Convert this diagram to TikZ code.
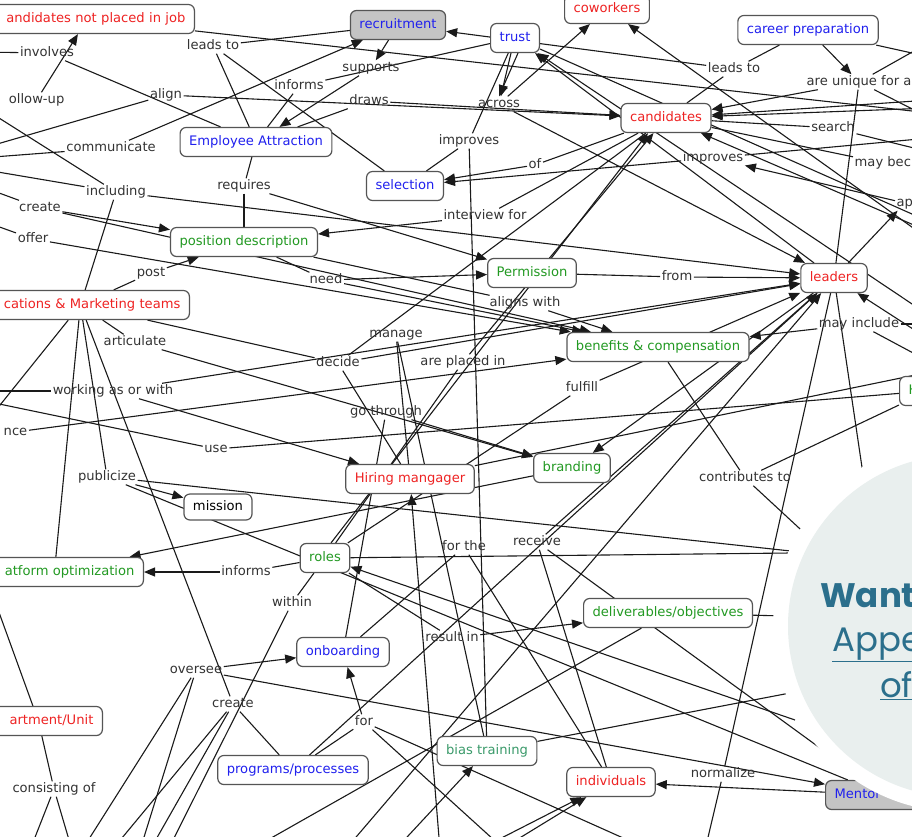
\documentclass[tikz,border=0pt]{standalone}
\usepackage{fontspec}
\setmainfont{DejaVu Sans}
\newfontfamily\promofont{Poppins}
\usetikzlibrary{arrows.meta}
\definecolor{cmred}{HTML}{EE2222}
\definecolor{cmblue}{HTML}{2020EE}
\definecolor{cmgreen}{HTML}{229922}
\definecolor{cmteal}{HTML}{3A9A6A}
\definecolor{boxline}{HTML}{555555}
\definecolor{boxgray}{HTML}{C4C4C4}
\definecolor{linkcol}{HTML}{1A1A1A}
\definecolor{labelcol}{HTML}{333333}
\definecolor{promofill}{HTML}{E9EFEE}
\definecolor{promotext}{HTML}{2B6F8C}
\pgfdeclarelayer{paper}
\pgfdeclarelayer{links}
\pgfsetlayers{paper,links,main}
\tikzset{
  concept/.style={draw=boxline, line width=1.2pt, rounded corners=6pt, fill=white,
    minimum height=29pt, inner xsep=9pt, inner ysep=2pt, text height=9.5pt, text depth=2.5pt,
    font=\fontsize{13.1}{15}\selectfont},
  grayconcept/.style={concept, fill=boxgray},
  phrase/.style={inner sep=1.5pt, text=labelcol, text height=9.5pt, text depth=2.5pt,
    font=\fontsize{13.1}{15}\selectfont},
  conn/.style={draw=linkcol, line width=1.1pt},
  conna/.style={conn, -{Triangle[length=11pt,width=9pt]}},
}
\begin{document}
\begin{tikzpicture}[x=1pt,y=-1pt]
\useasboundingbox (0,0) rectangle (912,836);
\begin{pgfonlayer}{paper}
  \fill[white] (0,0) rectangle (912,836);
\end{pgfonlayer}

% ---------- concepts ----------
\node[concept, text=cmred, anchor=east, text width=196pt, align=right] (cnp) at (195,19) {andidates not placed in job};
\node[grayconcept, text=cmblue] (recr) at (398,25) {recruitment};
\node[concept, text=cmblue] (trust) at (515,38) {trust};
\node[concept, text=cmred] (cowork) at (607,9) {coworkers};
\node[concept, text=cmblue] (career) at (808,30) {career preparation};
\node[concept, text=cmblue] (ea) at (256,142) {Employee Attraction};
\node[concept, text=cmred] (cand) at (666,118) {candidates};
\node[concept, text=cmblue] (sel) at (405,186) {selection};
\node[concept, text=cmgreen] (posd) at (244,242) {position description};
\node[concept, text=cmgreen] (perm) at (532,273) {Permission};
\node[concept, text=cmred] (lead) at (834,278) {leaders};
\node[concept, text=cmred, anchor=east, text width=200pt, align=right] (mkt) at (190,305) {cations \& Marketing teams};
\node[concept, text=cmgreen] (ben) at (658,347) {benefits \& compensation};
\node[concept, text=cmred] (hire) at (410,479) {Hiring mangager};
\node[concept, text=cmgreen] (brand) at (572,468) {branding};
\node[concept, text=black, minimum height=26pt] (miss) at (218,507) {mission};
\node[concept, text=cmgreen, anchor=east, text width=160pt, align=right] (plat) at (144,572) {atform optimization};
\node[concept, text=cmgreen] (roles) at (325,558) {roles};
\node[concept, text=cmgreen] (deliv) at (668,613) {deliverables/objectives};
\node[concept, text=cmblue] (onb) at (343,652) {onboarding};
\node[concept, text=cmred, anchor=east, text width=110pt, align=right] (dept) at (103,721) {artment/Unit};
\node[concept, text=cmblue] (prog) at (293,770) {programs/processes};
\node[concept, text=cmteal] (bias) at (487,751) {bias training};
\node[concept, text=cmred] (indiv) at (611,782) {individuals};
\node[grayconcept, text=cmblue, anchor=west, text width=100pt, align=left] (ment) at (825,795) {Mentor};
\node[concept, text=cmgreen, anchor=west, text width=40pt, align=left] (hnode) at (899,391) {H};

% ---------- linking phrases ----------
\node[phrase] (inv) at (47,53) {involves};
\node[phrase] (leads1) at (213,46) {leads to};
\node[phrase] (supp) at (371,68) {supports};
\node[phrase] (inf1) at (299,86) {informs};
\node[phrase] (align) at (166,95) {align};
\node[phrase, anchor=east] (follow) at (66,100) {ollow-up};
\node[phrase] (draws) at (369,101) {draws};
\node[phrase] (across) at (499,104) {across};
\node[phrase] (leads2) at (734,69) {leads to};
\node[phrase, anchor=west] (uniq) at (805,82) {are unique for a};
\node[phrase] (comm) at (111,148) {communicate};
\node[phrase] (impr1) at (469,141) {improves};
\node[phrase] (search) at (833,128) {search};
\node[phrase] (impr2) at (713,158) {improves};
\node[phrase, anchor=west] (maybec) at (853,163) {may bec};
\node[phrase] (incl) at (116,192) {including};
\node[phrase] (req) at (244,186) {requires};
\node[phrase] (of) at (535,165) {of};
\node[phrase] (create1) at (40,208) {create};
\node[phrase] (intv) at (485,216) {interview for};
\node[phrase] (offer) at (33,239) {offer};
\node[phrase, anchor=west] (ap) at (895,203) {ap};
\node[phrase] (post) at (151,273) {post};
\node[phrase] (need) at (326,280) {need};
\node[phrase] (from) at (677,277) {from};
\node[phrase] (alignsw) at (525,303) {aligns with};
\node[phrase] (artic) at (135,342) {articulate};
\node[phrase] (manage) at (396,334) {manage};
\node[phrase] (mayinc) at (859,324) {may include};
\node[phrase] (decide) at (338,363) {decide};
\node[phrase] (placed) at (463,362) {are placed in};
\node[phrase] (working) at (113,391) {working as or with};
\node[phrase] (fulfill) at (582,388) {fulfill};
\node[phrase] (gothr) at (386,412) {go through};
\node[phrase, anchor=east] (nce) at (29,432) {nce};
\node[phrase] (use) at (216,449) {use};
\node[phrase] (publ) at (107,477) {publicize};
\node[phrase] (contrib) at (745,478) {contributes to};
\node[phrase, anchor=west] (re) at (855,476) {re};
\node[phrase] (forthe) at (464,547) {for the};
\node[phrase] (receive) at (537,542) {receive};
\node[phrase] (inf2) at (246,572) {informs};
\node[phrase] (within) at (292,603) {within};
\node[phrase] (result) at (452,638) {result in};
\node[phrase] (oversee) at (196,670) {oversee};
\node[phrase] (create2) at (233,704) {create};
\node[phrase] (for) at (364,722) {for};
\node[phrase] (normal) at (723,774) {normalize};
\node[phrase] (consist) at (54,789) {consisting of};

% ---------- ends of links that leave the sheet ----------
\coordinate (w52) at (-20,52);
\coordinate (w108) at (-20,106);
\coordinate (w147) at (-20,149);
\coordinate (w158) at (-20,158);
\coordinate (w170) at (-20,169);
\coordinate (w190) at (-20,186);
\coordinate (w222) at (-20,220);
\coordinate (w391) at (-20,391);
\coordinate (w398) at (-20,400);
\coordinate (w425) at (-20,430);
\coordinate (w560) at (-20,560);
\coordinate (e40) at (930,42);
\coordinate (e57) at (930,57);
\coordinate (e100) at (930,100);
\coordinate (e106) at (930,108);
\coordinate (e112) at (930,113);
\coordinate (e115) at (930,118);
\coordinate (e140) at (930,138);
\coordinate (e150) at (930,152);
\coordinate (e225) at (930,222);
\coordinate (e236) at (930,240);
\coordinate (e245) at (930,232);
\coordinate (e318) at (930,316);
\coordinate (e322) at (930,324);
\coordinate (e335) at (930,340);
\coordinate (e365) at (930,362);
\coordinate (e372) at (930,372);
\coordinate (s35) at (30,850);
\coordinate (s70) at (72,850);
\coordinate (s85) at (82,850);
\coordinate (s115) at (112,850);
\coordinate (s140) at (140,850);
\coordinate (s165) at (168,850);
\coordinate (s170) at (150,850);
\coordinate (s250) at (250,850);
\coordinate (s345) at (345,850);
\coordinate (s400) at (395,850);
\coordinate (s440) at (440,850);
\coordinate (s478) at (478,850);
\coordinate (s498) at (500,850);
\coordinate (s505) at (505,850);
\coordinate (s650) at (650,850);
\coordinate (s700) at (705,850);
\coordinate (h1) at (800,552);
\coordinate (h2) at (812,540);
\coordinate (h4) at (790,693);
\coordinate (h5) at (790,553);
\coordinate (h6) at (785,616);
\coordinate (h7) at (795,720);

% ---------- links ----------
\begin{pgfonlayer}{links}
% upper left
\draw[conn] (w52) -- (inv);
\draw[conn] (inv) -- (ea);
\draw[conna] (follow) -- (cnp);
\draw[conn] (w108) -- (incl);
\draw[conn] (w147) -- (align);
\draw[conna] (align) -- (cand);
\draw[conn] (w158) -- (comm);
\draw[conna] (comm) -- (recr);
\draw[conn] (w170) -- (incl);
\draw[conna] (incl) -- (lead);
\draw[conn] (incl) -- (mkt);
\draw[conn] (w190) -- (create1);
\draw[conna] (create1) -- (posd);
\draw[conna] (create1) -- (ben);
\draw[conn] (w222) -- (offer);
\draw[conna] (offer) -- (ben);
\draw[conn] (posd) -- (need);
\draw[conna] (need) -- (perm);
\draw[conna] (need) -- (ben);
\draw[conn] (ea) -- (req);
\draw[conn] (req) -- (posd);
\draw[conna] (req) -- (perm);
\draw[conn] (mkt) -- (post);
\draw[conna] (post) -- (posd);
\draw[conn] (posd) -- (alignsw);
\draw[conna] (alignsw) -- (ben);
\draw[conn] (cnp) -- (e112);
% upper middle
\draw[conn] (recr) -- (leads1);
\draw[conn] (leads1) -- (ea);
\draw[conn] (leads1) -- (sel);
\draw[conn] (ea) -- (inf1);
\draw[conn] (inf1) -- (trust);
\draw[conna] (recr) -- (supp);
\draw[conna] (supp) -- (ea);
\draw[conn] (ea) -- (draws);
\draw[conna] (draws) -- (cand);
\draw[conna] ([xshift=-4pt]trust.south) -- (across);
\draw[conna] ([xshift=3pt]trust.south) -- (across.north);
\draw[conna] (across) -- (cowork);
\draw[conn] (trust) -- (impr1);
\draw[conn] (impr1) -- (sel);
\draw[conn] (bias) -- (impr1);
\draw[conn] (cand) -- (of);
\draw[conna] (of) -- (sel);
\draw[conna] (impr2) -- (sel);
\draw[conn] (cand) -- (intv);
\draw[conna] (intv) -- (posd);
\draw[conna] (across) -- (lead);
% upper right
\draw[conn] (career) -- (leads2);
\draw[conn] (leads2) -- (cand);
\draw[conna] (leads2) -- (recr);
\draw[conna] (career) -- (uniq);
\draw[conna] (uniq) -- (cand);
\draw[conn] (lead) -- (uniq);
\draw[conn] (career) -- (e57);
\draw[conn] (uniq) -- (e40);
\draw[conn] (uniq) -- (e115);
\draw[conna] (e100) -- (cand);
\draw[conna] (e106) -- (cand);
\draw[conn] (cand) -- (search);
\draw[conn] (search) -- (e150);
\draw[conn] (cand) -- (maybec);
\draw[conn] (impr2) -- (e140);
\draw[conna] (ap) -- (impr2);
\draw[conna] (lead) -- (ap);
\draw[conna] (e236) -- (cowork);
\draw[conna] (e245) -- (cand);
\draw[conn] (trust) -- (e225);
\draw[conna] (lead) -- (trust);
\draw[conna] (e318) -- (trust);
\draw[conn] (perm) -- (from);
\draw[conna] (from) -- (lead);
% middle
\draw[conna] (decide) -- (lead);
\draw[conn] (mkt) -- (decide);
\draw[conn] (decide) -- (cand);
\draw[conn] (decide) -- (hire);
\draw[conn] (mkt) -- (artic);
\draw[conna] (artic) -- (brand);
\draw[conn] (w391) -- (working);
\draw[conna] (working) -- (lead);
\draw[conna] (working) -- (hire);
\draw[conn] (w398) -- (use);
\draw[conn] (use) -- (hnode);
\draw[conna] (nce) -- (ben);
\draw[conn] (mkt) -- (publ);
\draw[conna] (publ) -- (miss);
\draw[conn] (publ) -- (h1);
\draw[conn] (publ) -- (ment);
\draw[conn] (mkt) -- (plat);
\draw[conn] (mkt) -- (w425);
\draw[conn] (mkt) -- (create2);
\draw[conn] (manage) -- (hire);
\draw[conn] (manage) -- (bias);
\draw[conn] (roles) -- (placed);
\draw[conna] (placed) -- (cand);
\draw[conna] ([xshift=6pt]roles.north) -- ([xshift=-18pt]cand.south);
\draw[conn] (gothr) -- (onb);
\draw[conna] (gothr) -- (brand);
\draw[conn] (roles) -- (fulfill);
\draw[conna] (fulfill) -- (lead);
\draw[conna] (lead) -- (brand);
\draw[conna] (prog) -- (lead);
\draw[conna] (brand) -- (plat);
\draw[conna] (mayinc) -- (ben);
\draw[conn] (mayinc) -- (e322);
\draw[conn] (mayinc) -- (e365);
\draw[conna] (e335) -- (lead);
\draw[conn] (lead) -- (re);
\draw[conn] (ben) -- (contrib);
\draw[conn] (contrib) -- (hnode);
\draw[conn] (contrib) -- (h2);
\draw[conn] (hire) -- (e372);
\draw[conna] (s345) -- (lead);
\draw[conn] (receive) -- (lead);
% lower part
\draw[conna] (inf2) -- (plat);
\draw[conn] (roles) -- (inf2);
\draw[conn] (roles) -- (within);
\draw[conn] (within) -- (s165);
\draw[conna] (oversee) -- (onb);
\draw[conna] (oversee) -- (ment);
\draw[conn] (oversee) -- (s85);
\draw[conn] (oversee) -- (s140);
\draw[conn] (create2) -- (prog);
\draw[conn] (create2) -- (s115);
\draw[conn] (create2) -- (s170);
\draw[conn] (dept) -- (consist);
\draw[conn] (consist) -- (s35);
\draw[conn] (consist) -- (s70);
\draw[conn] (dept) -- (w560);
\draw[conna] (for) -- (onb);
\draw[conn] (prog) -- (for);
\draw[conn] (for) -- (s650);
\draw[conn] (for) -- (s505);
\draw[conna] (result) -- (deliv);
\draw[conn] (roles) -- (result);
\draw[conna] (s440) -- (hire);
\draw[conn] (receive) -- (indiv);
\draw[conna] (receive) -- (ment);
\draw[conn] (onb) -- (forthe);
\draw[conn] (forthe) -- (indiv);
\draw[conna] (ment) -- (indiv);
\draw[conn] (lead) -- (normal);
\draw[conn] (normal) -- (s700);
\draw[conna] (s478) -- (indiv);
\draw[conna] (s498) -- (indiv);
\draw[conna] (s400) -- (bias);
\draw[conn] (bias) -- (h4);
\draw[conna] (h7) -- (roles);
\draw[conn] (s250) -- (deliv);
\draw[conn] (roles) -- (h5);
\draw[conn] (deliv) -- (h6);
\end{pgfonlayer}

% ---------- promotional bubble over the lower right ----------
\fill[white] (959,626) circle (186);
\fill[promofill] (959,626) circle (171);
\node[anchor=base west, inner sep=0pt, text=promotext, font=\promofont\bfseries\fontsize{34}{38}\selectfont] (want) at (820,607) {Want};
\node[anchor=base west, inner sep=0pt, text=promotext, font=\promofont\fontsize{34}{38}\selectfont] (appe) at (832,651) {\underline{Appe}};
\node[anchor=base west, inner sep=0pt, text=promotext, font=\promofont\fontsize{34}{38}\selectfont] (ofword) at (880,697) {\underline{of}};
\end{tikzpicture}
\end{document}
